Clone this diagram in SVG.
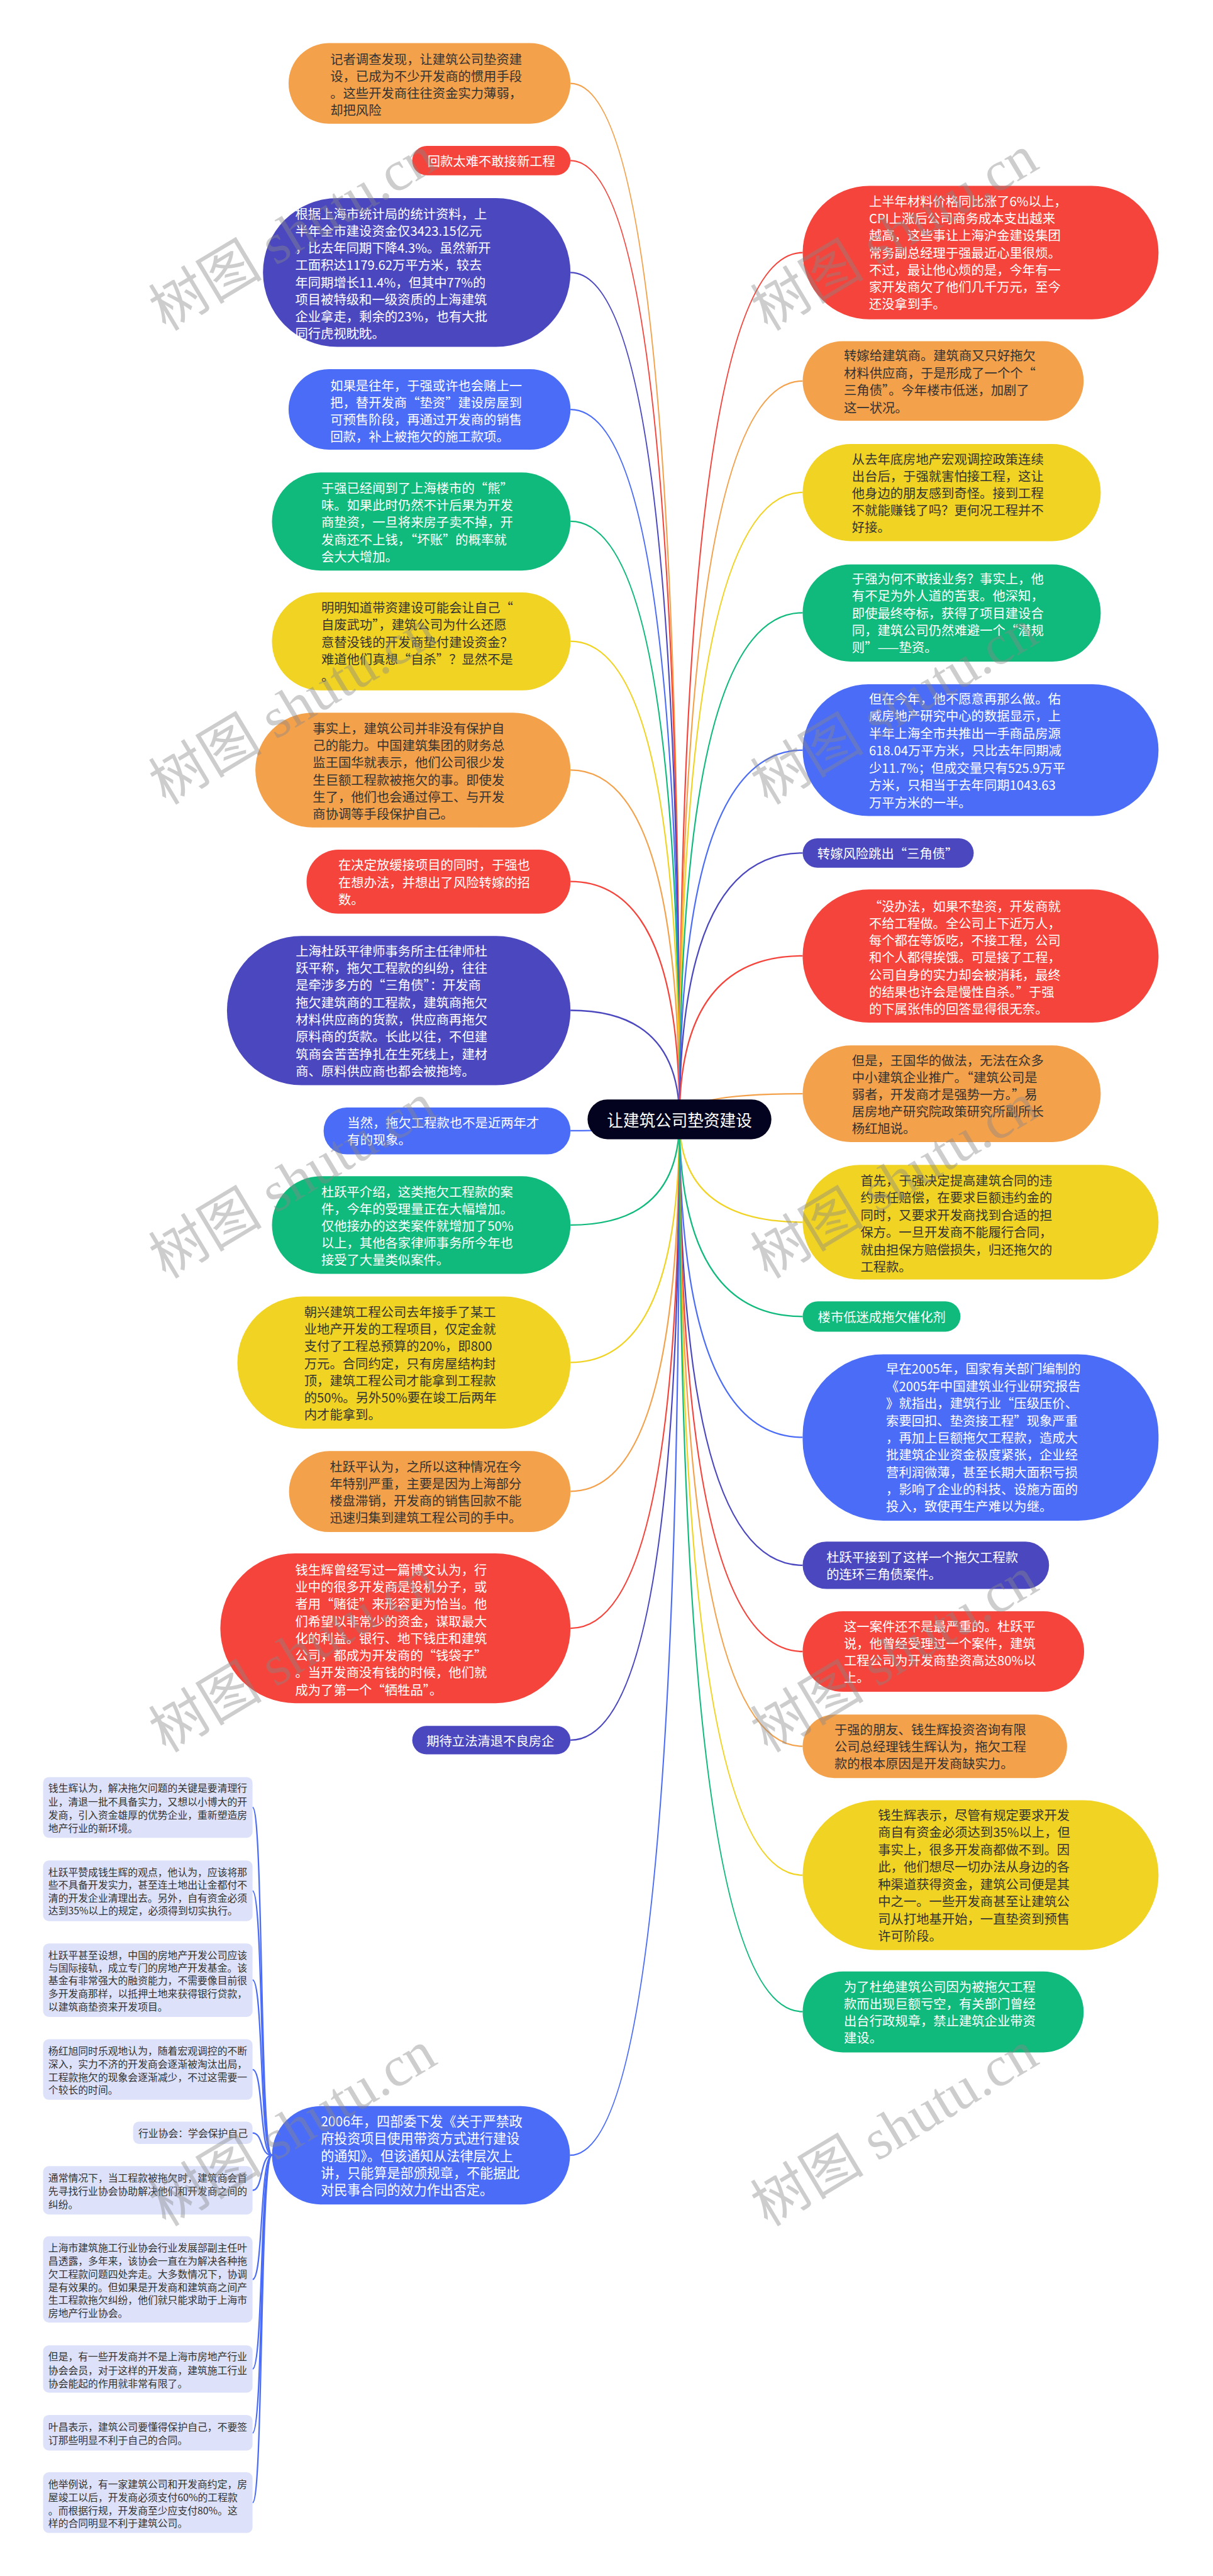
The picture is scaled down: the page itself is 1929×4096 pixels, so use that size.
<svg xmlns="http://www.w3.org/2000/svg" width="1929" height="4096" viewBox="0 0 1929 4096">
<style>
.t{font-family:"Noto Sans CJK SC","Noto Sans",sans-serif;font-size:27px;dominant-baseline:central}
.s{font-family:"Noto Sans CJK SC","Noto Sans",sans-serif;font-size:21px;dominant-baseline:central;fill:#333}
.w{fill:#fff}.d{fill:#333}
.or{fill:#F4A14B}.rd{fill:#F5443B}.pu{fill:#4B48BF}.bl{fill:#4A6CF7}.gr{fill:#0FBA7C}.ye{fill:#F1D324}.ch{fill:#DDE2FA}
.c{fill:none;stroke-width:3}
.cor{stroke:#F4A14B}.crd{stroke:#F5443B}.cpu{stroke:#4B48BF}.cbl{stroke:#4A6CF7}.cgr{stroke:#0FBA7C}.cye{stroke:#F1D324}
.wm{font-family:"Liberation Serif","Noto Sans CJK SC",serif;font-size:120px;fill:#888;fill-opacity:0.42}
</style>
<rect width="1929" height="4096" fill="#fff"/>
<g transform="scale(0.753516)">
<g id="connectors">
<path class="c cor" d="M1434 2362 Q1434 176 1204 176"/>
<path class="c crd" d="M1434 2362 Q1434 339 1204 339"/>
<path class="c cpu" d="M1434 2362 Q1434 575 1204 575"/>
<path class="c cbl" d="M1434 2362 Q1434 864 1204 864"/>
<path class="c cgr" d="M1434 2362 Q1434 1100 1204 1100"/>
<path class="c cye" d="M1434 2362 Q1434 1353 1204 1353"/>
<path class="c cor" d="M1434 2362 Q1434 1625 1204 1625"/>
<path class="c crd" d="M1434 2362 Q1434 1860 1204 1860"/>
<path class="c cpu" d="M1434 2362 Q1434 2132 1204 2132"/>
<path class="c cbl" d="M1434 2362 Q1434 2386 1204 2386"/>
<path class="c cgr" d="M1434 2362 Q1434 2585 1204 2585"/>
<path class="c cye" d="M1434 2362 Q1434 2875 1204 2875"/>
<path class="c cor" d="M1434 2362 Q1434 3147 1204 3147"/>
<path class="c crd" d="M1434 2362 Q1434 3436 1204 3436"/>
<path class="c cpu" d="M1434 2362 Q1434 3672 1204 3672"/>
<path class="c cbl" d="M1434 2362 Q1434 4548 1203 4548"/>
<path class="c crd" d="M1434 2362 Q1434 533 1694 533"/>
<path class="c cor" d="M1434 2362 Q1434 804 1694 804"/>
<path class="c cye" d="M1434 2362 Q1434 1039 1694 1039"/>
<path class="c cgr" d="M1434 2362 Q1434 1293 1694 1293"/>
<path class="c cbl" d="M1434 2362 Q1434 1583 1694 1583"/>
<path class="c cpu" d="M1434 2362 Q1434 1800 1694 1800"/>
<path class="c crd" d="M1434 2362 Q1434 2017 1694 2017"/>
<path class="c cor" d="M1434 2362 Q1434 2308 1694 2308"/>
<path class="c cye" d="M1434 2362 Q1434 2579 1694 2579"/>
<path class="c cgr" d="M1434 2362 Q1434 2778 1694 2778"/>
<path class="c cbl" d="M1434 2362 Q1434 3033 1694 3033"/>
<path class="c cpu" d="M1434 2362 Q1434 3303 1694 3303"/>
<path class="c crd" d="M1434 2362 Q1434 3485 1694 3485"/>
<path class="c cor" d="M1434 2362 Q1434 3685 1694 3685"/>
<path class="c cye" d="M1434 2362 Q1434 3957 1694 3957"/>
<path class="c cgr" d="M1434 2362 Q1434 4245 1694 4245"/>
<path class="c cbl" d="M574 4548 C548 4548 556 3814 533 3814"/>
<path class="c cbl" d="M574 4548 C548 4548 556 3990 533 3990"/>
<path class="c cbl" d="M574 4548 C548 4548 556 4178 533 4178"/>
<path class="c cbl" d="M574 4548 C548 4548 556 4367 533 4367"/>
<path class="c cbl" d="M574 4548 C548 4548 556 4501 533 4501"/>
<path class="c cbl" d="M574 4548 C548 4548 556 4622 533 4622"/>
<path class="c cbl" d="M574 4548 C548 4548 556 4810 533 4810"/>
<path class="c cbl" d="M574 4548 C548 4548 556 4999 533 4999"/>
<path class="c cbl" d="M574 4548 C548 4548 556 5134 533 5134"/>
<path class="c cbl" d="M574 4548 C548 4548 556 5281 533 5281"/>
</g>
<g id="root"><rect x="1240" y="2320" width="388" height="84" rx="42" fill="#03031F"/><text x="1434" y="2362" text-anchor="middle" style="font-family:'Noto Sans CJK SC',sans-serif;font-size:34px;dominant-baseline:central;fill:#fff">让建筑公司垫资建设</text></g>
<g id="L1"><rect class="or" x="609" y="91" width="595" height="170" rx="85"/><text class="t d"><tspan x="697" y="123">记者调查发现，让建筑公司垫资建</tspan><tspan x="697" y="159">设，已成为不少开发商的惯用手段</tspan><tspan x="697" y="195">。这些开发商往往资金实力薄弱，</tspan><tspan x="697" y="231">却把风险</tspan></text></g>
<g id="L2"><rect class="rd" x="870" y="308" width="334" height="62" rx="31"/><text class="t w" x="902" y="339">回款太难不敢接新工程</text></g>
<g id="L3"><rect class="pu" x="555" y="418" width="649" height="314" rx="157"/><text class="t w"><tspan x="623" y="450">根据上海市统计局的统计资料，上</tspan><tspan x="623" y="486">半年全市建设资金仅3423.15亿元</tspan><tspan x="623" y="522">，比去年同期下降4.3%。虽然新开</tspan><tspan x="623" y="558">工面积达1179.62万平方米，较去</tspan><tspan x="623" y="594">年同期增长11.4%，但其中77%的</tspan><tspan x="623" y="630">项目被特级和一级资质的上海建筑</tspan><tspan x="623" y="666">企业拿走，剩余的23%，也有大批</tspan><tspan x="623" y="702">同行虎视眈眈。</tspan></text></g>
<g id="L4"><rect class="bl" x="609" y="779" width="595" height="170" rx="85"/><text class="t w"><tspan x="697" y="812">如果是往年，于强或许也会赌上一</tspan><tspan x="697" y="848">把，替开发商“垫资”建设房屋到</tspan><tspan x="697" y="884">可预售阶段，再通过开发商的销售</tspan><tspan x="697" y="920">回款，补上被拖欠的施工款项。</tspan></text></g>
<g id="L5"><rect class="gr" x="574" y="997" width="630" height="207" rx="103"/><text class="t w"><tspan x="678" y="1028">于强已经闻到了上海楼市的“熊”</tspan><tspan x="678" y="1064">味。如果此时仍然不计后果为开发</tspan><tspan x="678" y="1100">商垫资，一旦将来房子卖不掉，开</tspan><tspan x="678" y="1137">发商还不上钱，“坏账”的概率就</tspan><tspan x="678" y="1173">会大大增加。</tspan></text></g>
<g id="L6"><rect class="ye" x="574" y="1250" width="630" height="207" rx="103"/><text class="t d"><tspan x="678" y="1280">明明知道带资建设可能会让自己“</tspan><tspan x="678" y="1316">自废武功”，建筑公司为什么还愿</tspan><tspan x="678" y="1353">意替没钱的开发商垫付建设资金？</tspan><tspan x="678" y="1389">难道他们真想“自杀”？显然不是</tspan><tspan x="678" y="1425">。</tspan></text></g>
<g id="L7"><rect class="or" x="539" y="1504" width="665" height="242" rx="121"/><text class="t d"><tspan x="660" y="1535">事实上，建筑公司并非没有保护自</tspan><tspan x="660" y="1571">己的能力。中国建筑集团的财务总</tspan><tspan x="660" y="1607">监王国华就表示，他们公司很少发</tspan><tspan x="660" y="1644">生巨额工程款被拖欠的事。即使发</tspan><tspan x="660" y="1680">生了，他们也会通过停工、与开发</tspan><tspan x="660" y="1716">商协调等手段保护自己。</tspan></text></g>
<g id="L8"><rect class="rd" x="647" y="1793" width="557" height="135" rx="67"/><text class="t w"><tspan x="714" y="1824">在决定放缓接项目的同时，于强也</tspan><tspan x="714" y="1860">在想办法，并想出了风险转嫁的招</tspan><tspan x="714" y="1896">数。</tspan></text></g>
<g id="L9"><rect class="pu" x="479" y="1975" width="725" height="315" rx="157"/><text class="t w"><tspan x="624" y="2005">上海杜跃平律师事务所主任律师杜</tspan><tspan x="624" y="2041">跃平称，拖欠工程款的纠纷，往往</tspan><tspan x="624" y="2077">是牵涉多方的“三角债”：开发商</tspan><tspan x="624" y="2114">拖欠建筑商的工程款，建筑商拖欠</tspan><tspan x="624" y="2150">材料供应商的货款，供应商再拖欠</tspan><tspan x="624" y="2186">原料商的货款。长此以往，不但建</tspan><tspan x="624" y="2223">筑商会苦苦挣扎在生死线上，建材</tspan><tspan x="624" y="2259">商、原料供应商也都会被拖垮。</tspan></text></g>
<g id="L10"><rect class="bl" x="683" y="2337" width="521" height="99" rx="49"/><text class="t w"><tspan x="733" y="2368">当然，拖欠工程款也不是近两年才</tspan><tspan x="733" y="2404">有的现象。</tspan></text></g>
<g id="L11"><rect class="gr" x="574" y="2482" width="630" height="206" rx="103"/><text class="t w"><tspan x="678" y="2513">杜跃平介绍，这类拖欠工程款的案</tspan><tspan x="678" y="2549">件，今年的受理量正在大幅增加。</tspan><tspan x="678" y="2585">仅他接办的这类案件就增加了50%</tspan><tspan x="678" y="2621">以上，其他各家律师事务所今年也</tspan><tspan x="678" y="2657">接受了大量类似案件。</tspan></text></g>
<g id="L12"><rect class="ye" x="501" y="2736" width="703" height="279" rx="139"/><text class="t d"><tspan x="642" y="2767">朝兴建筑工程公司去年接手了某工</tspan><tspan x="642" y="2803">业地产开发的工程项目，仅定金就</tspan><tspan x="642" y="2839">支付了工程总预算的20%，即800</tspan><tspan x="642" y="2876">万元。合同约定，只有房屋结构封</tspan><tspan x="642" y="2912">顶，建筑工程公司才能拿到工程款</tspan><tspan x="642" y="2948">的50%。另外50%要在竣工后两年</tspan><tspan x="642" y="2984">内才能拿到。</tspan></text></g>
<g id="L13"><rect class="or" x="610" y="3062" width="594" height="171" rx="85"/><text class="t d"><tspan x="696" y="3093">杜跃平认为，之所以这种情况在今</tspan><tspan x="696" y="3129">年特别严重，主要是因为上海部分</tspan><tspan x="696" y="3165">楼盘滞销，开发商的销售回款不能</tspan><tspan x="696" y="3201">迅速归集到建筑工程公司的手中。</tspan></text></g>
<g id="L14"><rect class="rd" x="465" y="3278" width="739" height="316" rx="158"/><text class="t w"><tspan x="623" y="3311">钱生辉曾经写过一篇博文认为，行</tspan><tspan x="623" y="3347">业中的很多开发商是投机分子，或</tspan><tspan x="623" y="3383">者用“赌徒”来形容更为恰当。他</tspan><tspan x="623" y="3420">们希望以非常少的资金，谋取最大</tspan><tspan x="623" y="3456">化的利益。银行、地下钱庄和建筑</tspan><tspan x="623" y="3492">公司，都成为开发商的“钱袋子”</tspan><tspan x="623" y="3528">。当开发商没有钱的时候，他们就</tspan><tspan x="623" y="3564">成为了第一个“牺牲品”。</tspan></text></g>
<g id="L15"><rect class="pu" x="870" y="3642" width="334" height="60" rx="30"/><text class="t w" x="900" y="3672">期待立法清退不良房企</text></g>
<g id="R1"><rect class="rd" x="1694" y="392" width="751" height="282" rx="141"/><text class="t w"><tspan x="1834" y="423">上半年材料价格同比涨了6%以上，</tspan><tspan x="1834" y="459">CPI上涨后公司商务成本支出越来</tspan><tspan x="1834" y="495">越高，这些事让上海沪金建设集团</tspan><tspan x="1834" y="532">常务副总经理于强最近心里很烦。</tspan><tspan x="1834" y="568">不过，最让他心烦的是，今年有一</tspan><tspan x="1834" y="604">家开发商欠了他们几千万元，至今</tspan><tspan x="1834" y="640">还没拿到手。</tspan></text></g>
<g id="R2"><rect class="or" x="1694" y="720" width="593" height="168" rx="84"/><text class="t d"><tspan x="1781" y="749">转嫁给建筑商。建筑商又只好拖欠</tspan><tspan x="1781" y="786">材料供应商，于是形成了一个个“</tspan><tspan x="1781" y="822">三角债”。今年楼市低迷，加剧了</tspan><tspan x="1781" y="859">这一状况。</tspan></text></g>
<g id="R3"><rect class="ye" x="1694" y="937" width="629" height="205" rx="102"/><text class="t d"><tspan x="1798" y="967">从去年底房地产宏观调控政策连续</tspan><tspan x="1798" y="1003">出台后，于强就害怕接工程，这让</tspan><tspan x="1798" y="1039">他身边的朋友感到奇怪。接到工程</tspan><tspan x="1798" y="1075">不就能赚钱了吗？更何况工程并不</tspan><tspan x="1798" y="1111">好接。</tspan></text></g>
<g id="R4"><rect class="gr" x="1694" y="1191" width="629" height="205" rx="102"/><text class="t w"><tspan x="1798" y="1220">于强为何不敢接业务？事实上，他</tspan><tspan x="1798" y="1256">有不足为外人道的苦衷。他深知，</tspan><tspan x="1798" y="1292">即使最终夺标，获得了项目建设合</tspan><tspan x="1798" y="1328">同，建筑公司仍然难避一个“潜规</tspan><tspan x="1798" y="1364">则”——垫资。</tspan></text></g>
<g id="R5"><rect class="bl" x="1694" y="1444" width="751" height="278" rx="139"/><text class="t w"><tspan x="1834" y="1473">但在今年，他不愿意再那么做。佑</tspan><tspan x="1834" y="1509">威房地产研究中心的数据显示，上</tspan><tspan x="1834" y="1546">半年上海全市共推出一手商品房源</tspan><tspan x="1834" y="1582">618.04万平方米，只比去年同期减</tspan><tspan x="1834" y="1619">少11.7%；但成交量只有525.9万平</tspan><tspan x="1834" y="1655">方米，只相当于去年同期1043.63</tspan><tspan x="1834" y="1692">万平方米的一半。</tspan></text></g>
<g id="R6"><rect class="pu" x="1694" y="1769" width="361" height="62" rx="31"/><text class="t w" x="1725" y="1800">转嫁风险跳出“三角债”</text></g>
<g id="R7"><rect class="rd" x="1694" y="1877" width="751" height="281" rx="140"/><text class="t w"><tspan x="1834" y="1911">“没办法，如果不垫资，开发商就</tspan><tspan x="1834" y="1947">不给工程做。全公司上下近万人，</tspan><tspan x="1834" y="1983">每个都在等饭吃，不接工程，公司</tspan><tspan x="1834" y="2019">和个人都得挨饿。可是接了工程，</tspan><tspan x="1834" y="2056">公司自身的实力却会被消耗，最终</tspan><tspan x="1834" y="2092">的结果也许会是慢性自杀。”于强</tspan><tspan x="1834" y="2128">的下属张伟的回答显得很无奈。</tspan></text></g>
<g id="R8"><rect class="or" x="1694" y="2206" width="629" height="204" rx="102"/><text class="t d"><tspan x="1798" y="2236">但是，王国华的做法，无法在众多</tspan><tspan x="1798" y="2272">中小建筑企业推广。“建筑公司是</tspan><tspan x="1798" y="2308">弱者，开发商才是强势一方。”易</tspan><tspan x="1798" y="2344">居房地产研究院政策研究所副所长</tspan><tspan x="1798" y="2380">杨红旭说。</tspan></text></g>
<g id="R9"><rect class="ye" x="1694" y="2458" width="751" height="242" rx="121"/><text class="t d"><tspan x="1816" y="2489">首先，于强决定提高建筑合同的违</tspan><tspan x="1816" y="2525">约责任赔偿，在要求巨额违约金的</tspan><tspan x="1816" y="2562">同时，又要求开发商找到合适的担</tspan><tspan x="1816" y="2598">保方。一旦开发商不能履行合同，</tspan><tspan x="1816" y="2635">就由担保方赔偿损失，归还拖欠的</tspan><tspan x="1816" y="2671">工程款。</tspan></text></g>
<g id="R10"><rect class="gr" x="1694" y="2746" width="333" height="64" rx="32"/><text class="t w" x="1726" y="2778">楼市低迷成拖欠催化剂</text></g>
<g id="R11"><rect class="bl" x="1694" y="2858" width="751" height="351" rx="170"/><text class="t w"><tspan x="1870" y="2887">早在2005年，国家有关部门编制的</tspan><tspan x="1870" y="2923">《2005年中国建筑业行业研究报告</tspan><tspan x="1870" y="2960">》就指出，建筑行业“压级压价、</tspan><tspan x="1870" y="2996">索要回扣、垫资接工程”现象严重</tspan><tspan x="1870" y="3032">，再加上巨额拖欠工程款，造成大</tspan><tspan x="1870" y="3068">批建筑企业资金极度紧张，企业经</tspan><tspan x="1870" y="3105">营利润微薄，甚至长期大面积亏损</tspan><tspan x="1870" y="3141">，影响了企业的科技、设施方面的</tspan><tspan x="1870" y="3177">投入，致使再生产难以为继。</tspan></text></g>
<g id="R12"><rect class="pu" x="1694" y="3253" width="520" height="100" rx="50"/><text class="t w"><tspan x="1744" y="3284">杜跃平接到了这样一个拖欠工程款</tspan><tspan x="1744" y="3320">的连环三角债案件。</tspan></text></g>
<g id="R13"><rect class="rd" x="1694" y="3400" width="594" height="170" rx="85"/><text class="t w"><tspan x="1781" y="3430">这一案件还不是最严重的。杜跃平</tspan><tspan x="1781" y="3466">说，他曾经受理过一个案件，建筑</tspan><tspan x="1781" y="3502">工程公司为开发商垫资高达80%以</tspan><tspan x="1781" y="3538">上。</tspan></text></g>
<g id="R14"><rect class="or" x="1694" y="3618" width="558" height="134" rx="67"/><text class="t d"><tspan x="1761" y="3648">于强的朋友、钱生辉投资咨询有限</tspan><tspan x="1761" y="3684">公司总经理钱生辉认为，拖欠工程</tspan><tspan x="1761" y="3720">款的根本原因是开发商缺实力。</tspan></text></g>
<g id="R15"><rect class="ye" x="1694" y="3799" width="751" height="316" rx="158"/><text class="t d"><tspan x="1853" y="3829">钱生辉表示，尽管有规定要求开发</tspan><tspan x="1853" y="3865">商自有资金必须达到35%以上，但</tspan><tspan x="1853" y="3902">事实上，很多开发商都做不到。因</tspan><tspan x="1853" y="3938">此，他们想尽一切办法从身边的各</tspan><tspan x="1853" y="3975">种渠道获得资金，建筑公司便是其</tspan><tspan x="1853" y="4011">中之一。一些开发商甚至让建筑公</tspan><tspan x="1853" y="4048">司从打地基开始，一直垫资到预售</tspan><tspan x="1853" y="4084">许可阶段。</tspan></text></g>
<g id="R16"><rect class="gr" x="1694" y="4160" width="593" height="171" rx="85"/><text class="t w"><tspan x="1781" y="4191">为了杜绝建筑公司因为被拖欠工程</tspan><tspan x="1781" y="4227">款而出现巨额亏空，有关部门曾经</tspan><tspan x="1781" y="4263">出台行政规章，禁止建筑企业带资</tspan><tspan x="1781" y="4299">建设。</tspan></text></g>
<g id="B0"><rect class="bl" x="574" y="4444" width="629" height="208" rx="104"/><text class="t w" style="font-size:28px"><tspan x="677" y="4475">2006年，四部委下发《关于严禁政</tspan><tspan x="677" y="4511">府投资项目使用带资方式进行建设</tspan><tspan x="677" y="4548">的通知》。但该通知从法律层次上</tspan><tspan x="677" y="4584">讲，只能算是部颁规章，不能据此</tspan><tspan x="677" y="4620">对民事合同的效力作出否定。</tspan></text></g>
<g id="C1"><rect class="ch" x="91" y="3750" width="442" height="128" rx="12"/><text class="s"><tspan x="102" y="3772">钱生辉认为，解决拖欠问题的关键是要清理行</tspan><tspan x="102" y="3801">业，清退一批不具备实力，又想以小博大的开</tspan><tspan x="102" y="3829">发商，引入资金雄厚的优势企业，重新塑造房</tspan><tspan x="102" y="3856">地产行业的新环境。</tspan></text></g>
<g id="C2"><rect class="ch" x="91" y="3926" width="442" height="128" rx="12"/><text class="s"><tspan x="102" y="3949">杜跃平赞成钱生辉的观点，他认为，应该将那</tspan><tspan x="102" y="3976">些不具备开发实力，甚至连土地出让金都付不</tspan><tspan x="102" y="4004">清的开发企业清理出去。另外，自有资金必须</tspan><tspan x="102" y="4031">达到35%以上的规定，必须得到切实执行。</tspan></text></g>
<g id="C3"><rect class="ch" x="91" y="4101" width="442" height="155" rx="12"/><text class="s"><tspan x="102" y="4124">杜跃平甚至设想，中国的房地产开发公司应该</tspan><tspan x="102" y="4151">与国际接轨，成立专门的房地产开发基金。该</tspan><tspan x="102" y="4178">基金有非常强大的融资能力，不需要像目前很</tspan><tspan x="102" y="4206">多开发商那样，以抵押土地来获得银行贷款，</tspan><tspan x="102" y="4233">以建筑商垫资来开发项目。</tspan></text></g>
<g id="C4"><rect class="ch" x="91" y="4303" width="442" height="128" rx="12"/><text class="s"><tspan x="102" y="4327">杨红旭同时乐观地认为，随着宏观调控的不断</tspan><tspan x="102" y="4354">深入，实力不济的开发商会逐渐被淘汰出局，</tspan><tspan x="102" y="4382">工程款拖欠的现象会逐渐减少，不过这需要一</tspan><tspan x="102" y="4409">个较长的时间。</tspan></text></g>
<g id="C5"><rect class="ch" x="281" y="4477" width="252" height="47" rx="12"/><text class="s" x="292" y="4501">行业协会：学会保护自己</text></g>
<g id="C6"><rect class="ch" x="91" y="4571" width="442" height="102" rx="12"/><text class="s"><tspan x="102" y="4595">通常情况下，当工程款被拖欠时，建筑商会首</tspan><tspan x="102" y="4622">先寻找行业协会协助解决他们和开发商之间的</tspan><tspan x="102" y="4650">纠纷。</tspan></text></g>
<g id="C7"><rect class="ch" x="91" y="4719" width="442" height="182" rx="12"/><text class="s"><tspan x="102" y="4742">上海市建筑施工行业协会行业发展部副主任叶</tspan><tspan x="102" y="4770">昌透露，多年来，该协会一直在为解决各种拖</tspan><tspan x="102" y="4797">欠工程款问题四处奔走。大多数情况下，协调</tspan><tspan x="102" y="4825">是有效果的。但如果是开发商和建筑商之间产</tspan><tspan x="102" y="4852">生工程款拖欠纠纷，他们就只能求助于上海市</tspan><tspan x="102" y="4880">房地产行业协会。</tspan></text></g>
<g id="C8"><rect class="ch" x="91" y="4949" width="442" height="100" rx="12"/><text class="s"><tspan x="102" y="4972">但是，有一些开发商并不是上海市房地产行业</tspan><tspan x="102" y="5000">协会会员，对于这样的开发商，建筑施工行业</tspan><tspan x="102" y="5028">协会能起的作用就非常有限了。</tspan></text></g>
<g id="C9"><rect class="ch" x="91" y="5096" width="442" height="75" rx="12"/><text class="s"><tspan x="102" y="5120">叶昌表示，建筑公司要懂得保护自己，不要签</tspan><tspan x="102" y="5148">订那些明显不利于自己的合同。</tspan></text></g>
<g id="C10"><rect class="ch" x="91" y="5217" width="442" height="128" rx="12"/><text class="s"><tspan x="102" y="5241">他举例说，有一家建筑公司和开发商约定，房</tspan><tspan x="102" y="5268">屋竣工以后，开发商必须支付60%的工程款</tspan><tspan x="102" y="5296">。而根据行规，开发商至少应支付80%。这</tspan><tspan x="102" y="5323">样的合同明显不利于建筑公司。</tspan></text></g>
<g id="watermark">
<text class="wm" transform="translate(350 700) rotate(-31)">树图 shutu.cn</text>
<text class="wm" transform="translate(350 1700) rotate(-31)">树图 shutu.cn</text>
<text class="wm" transform="translate(350 2700) rotate(-31)">树图 shutu.cn</text>
<text class="wm" transform="translate(350 3700) rotate(-31)">树图 shutu.cn</text>
<text class="wm" transform="translate(350 4700) rotate(-31)">树图 shutu.cn</text>
<text class="wm" transform="translate(1620 700) rotate(-31)">树图 shutu.cn</text>
<text class="wm" transform="translate(1620 1700) rotate(-31)">树图 shutu.cn</text>
<text class="wm" transform="translate(1620 2700) rotate(-31)">树图 shutu.cn</text>
<text class="wm" transform="translate(1620 3700) rotate(-31)">树图 shutu.cn</text>
<text class="wm" transform="translate(1620 4700) rotate(-31)">树图 shutu.cn</text>
</g>
</g>
</svg>
